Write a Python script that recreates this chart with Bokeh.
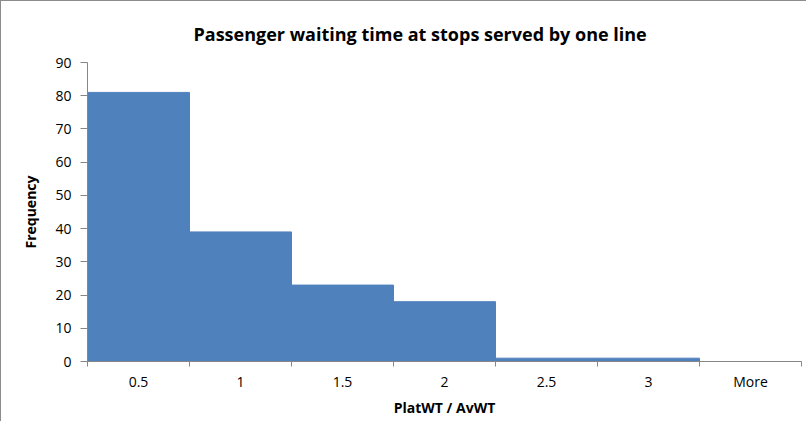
from bokeh.plotting import figure
from bokeh.models import FixedTicker, Range1d, ColumnDataSource
from bokeh.embed import file_html
from bokeh.resources import INLINE

categories = ["0.5", "1", "1.5", "2", "2.5", "3", "More"]
frequency = [81, 39, 23, 18, 1, 1, 0]
y_ticks = [0, 10, 20, 30, 40, 50, 60, 70, 80, 90]

n = len(categories)
centers = [i + 0.5 for i in range(n)]
src = ColumnDataSource(dict(x=centers, top=frequency, cat=categories))

FONT = "Open Sans"

p = figure(width=806, height=421, output_backend="svg", toolbar_location=None,
           x_range=Range1d(0, n), y_range=Range1d(0, 90),
           min_border_left=86, min_border_right=6, min_border_top=61, min_border_bottom=61,
           title="Passenger waiting time at stops served by one line")
p.outline_line_color = None
p.xgrid.visible = False
p.ygrid.visible = False

p.title.align = "left"
p.title.offset = 106
p.title.standoff = 34
p.title.text_font = FONT
p.title.text_font_size = "18px"
p.title.text_font_style = "bold"
p.title.text_color = "#000000"

p.vbar(x="x", top="top", width=1, source=src, fill_color="#4F81BD",
       line_color="#4F81BD", line_width=1)

# x axis
p.xaxis.ticker = FixedTicker(ticks=centers, minor_ticks=list(range(n + 1)))
p.xaxis.major_label_overrides = {c: lab for c, lab in zip(centers, categories)}
p.xaxis.major_tick_line_color = None
p.xaxis.minor_tick_out = 5
p.xaxis.minor_tick_in = 0
p.xaxis.minor_tick_line_color = "#868686"
p.xaxis.axis_line_color = "#868686"
p.xaxis.major_label_standoff = 4
p.xaxis.axis_label = "PlatWT / AvWT"
p.xaxis.axis_label_text_font_style = "bold"
p.xaxis.axis_label_standoff = 4

# y axis
p.yaxis.ticker = FixedTicker(ticks=y_ticks)
p.yaxis.minor_tick_line_color = None
p.yaxis.major_tick_out = 7
p.yaxis.major_tick_in = 0
p.yaxis.major_tick_line_color = "#868686"
p.yaxis.axis_line_color = "#868686"
p.yaxis.major_label_standoff = 9
p.yaxis.axis_label = "Frequency"
p.yaxis.axis_label_text_font_style = "bold"
p.yaxis.axis_label_standoff = 12

for ax in (p.xaxis[0], p.yaxis[0]):
    ax.major_label_text_font = FONT
    ax.major_label_text_font_size = "14px"
    ax.major_label_text_color = "#000000"
    ax.axis_label_text_font = FONT
    ax.axis_label_text_font_size = "14px"
    ax.axis_label_text_color = "#000000"

p.styles = {"border-left": "1px solid #8c8c8c", "border-top": "1px solid #8c8c8c"}

open("out.html", "w").write(file_html(p, INLINE))
